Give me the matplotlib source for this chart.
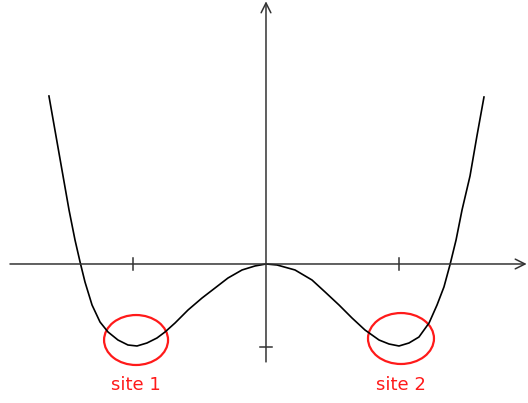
import matplotlib
matplotlib.use("Agg")
import matplotlib.pyplot as plt
from matplotlib.patches import Ellipse

# double-well curve, points (position, energy)
curve_x = [-1.632, -1.579, -1.526, -1.481, -1.436, -1.398, -1.361, -1.308,
           -1.248, -1.188, -1.113, -1.038, -0.970, -0.895, -0.820, -0.759,
           -0.684, -0.586, -0.481, -0.383, -0.286, -0.180, -0.083, 0.0,
           0.083, 0.218, 0.346, 0.444, 0.549, 0.647, 0.744, 0.850,
           0.925, 1.000, 1.075, 1.150, 1.226, 1.286, 1.338, 1.383,
           1.429, 1.474, 1.534, 1.586, 1.639]
curve_y = [2.024, 1.542, 1.060, 0.651, 0.289, 0.024, -0.217, -0.494,
           -0.699, -0.819, -0.916, -0.976, -0.988, -0.952, -0.892, -0.819,
           -0.711, -0.554, -0.410, -0.289, -0.169, -0.072, -0.024, 0.0,
           -0.012, -0.072, -0.193, -0.337, -0.494, -0.651, -0.795, -0.916,
           -0.964, -0.988, -0.952, -0.880, -0.711, -0.494, -0.277, -0.012,
           0.289, 0.651, 1.060, 1.542, 2.012]

x_ticks = [-1.0, 1.0]
y_ticks = [-1.0]

sites = ["site 1", "site 2"]
site_x = [-0.977, 1.015]
site_y = [-0.916, -0.898]
site_w = [0.481, 0.496]
site_h = [0.602, 0.614]

fig = plt.figure(figsize=(5.28, 4.03), dpi=100)
ax = fig.add_axes([0, 0, 1, 1])
ax.set_xlim(-2.0, 1.97)
ax.set_ylim(-1.675, 3.181)
ax.axis("off")

axis_col = "#333333"
red = "#ff1a1a"
# axes with open arrow heads
arrow = dict(arrowstyle="->,head_length=0.7,head_width=0.35", lw=1.1,
             color=axis_col, shrinkA=0, shrinkB=0)
ax.annotate("", xy=(1.96, 0), xytext=(-1.925, 0), arrowprops=arrow)
ax.annotate("", xy=(0, 3.165), xytext=(0, -1.18), arrowprops=arrow)

for t in x_ticks:
    ax.plot([t, t], [-0.072, 0.072], color=axis_col, lw=1.1)
for t in y_ticks:
    ax.plot([-0.045, 0.045], [t, t], color=axis_col, lw=1.1)

ax.plot(curve_x, curve_y, color="black", lw=1.2, solid_joinstyle="round")

for name, cx, cy, w, h in zip(sites, site_x, site_y, site_w, site_h):
    ax.add_patch(Ellipse((cx, cy), w, h, fill=False, edgecolor=red, lw=1.6))
    ax.text(cx, -1.458, name, color=red, fontsize=13,
            ha="center", va="center")

fig.savefig("out.png", dpi=100)
